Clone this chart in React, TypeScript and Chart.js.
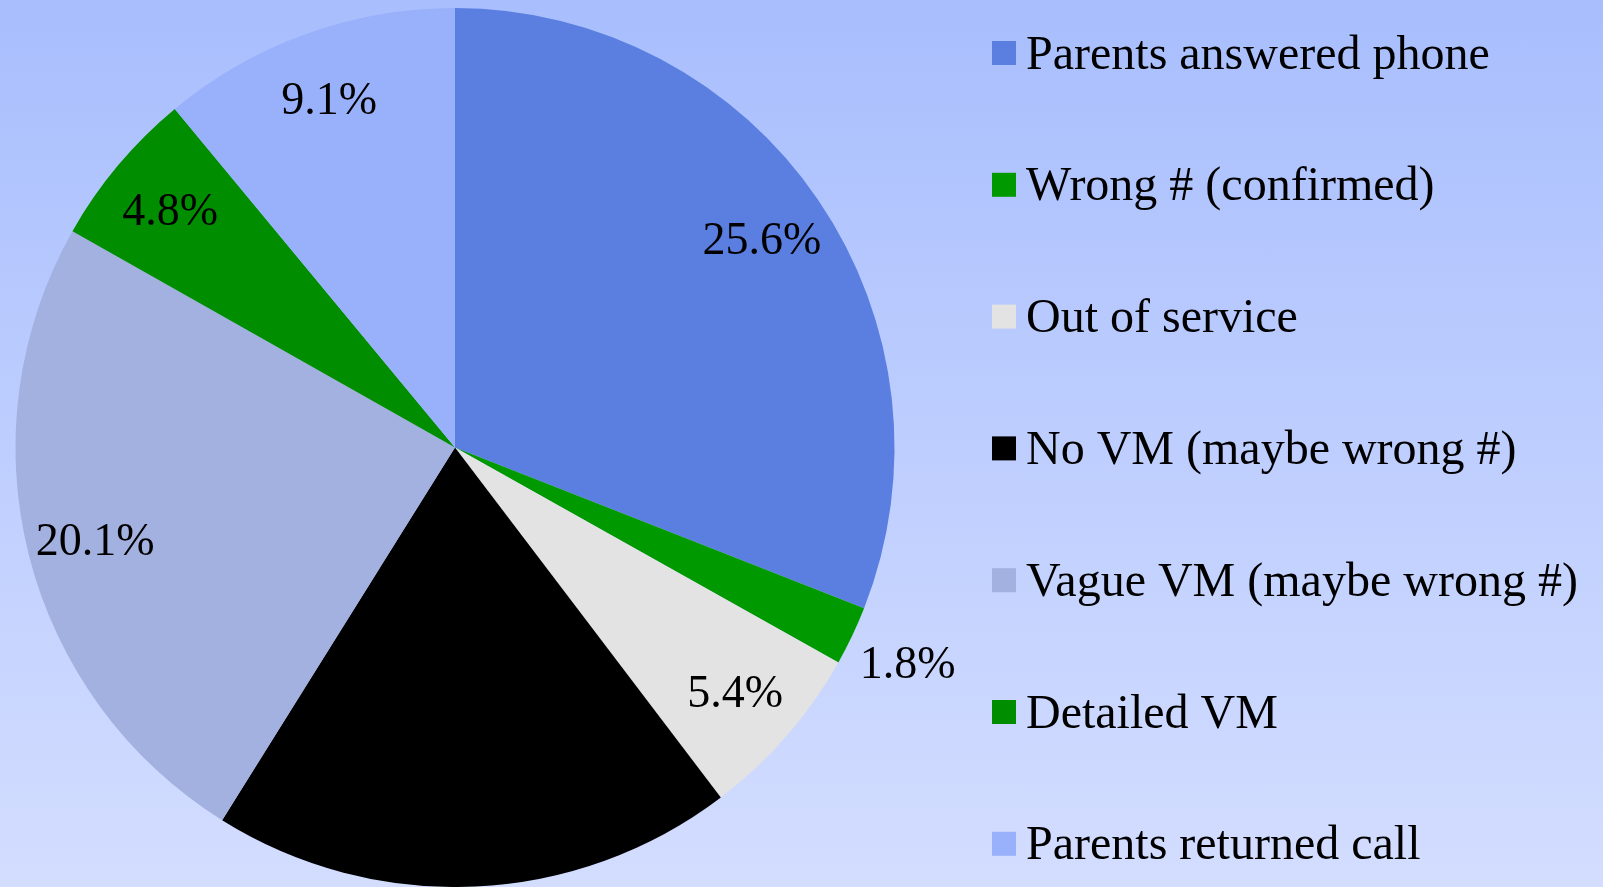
import React, { useEffect, useRef } from "react";
import { Chart, registerables } from "chart.js";

Chart.register(...registerables);

const categories = [
  "Parents answered phone",
  "Wrong # (confirmed)",
  "Out of service",
  "No VM (maybe wrong #)",
  "Vague VM (maybe wrong #)",
  "Detailed VM",
  "Parents returned call",
];
const values = [25.6, 1.8, 5.4, 15.9, 20.1, 4.8, 9.1];
const sliceColors = ["#5a7fe0", "#009900", "#e3e3e3", "#000000", "#a3b1e0", "#008e00", "#99b0fb"];

const W = 1603;
const H = 887;
const FONT = '"Liberation Serif", "Times New Roman", serif';

const labelPlugin = {
  id: "sliceLabels",
  afterDatasetsDraw(chart: any) {
    const ctx = chart.ctx;
    const meta = chart.getDatasetMeta(0);
    const data = chart.data.datasets[0].data as number[];
    const total = data.reduce((a, b) => a + b, 0);
    ctx.save();
    ctx.font = `46px ${FONT}`;
    ctx.textAlign = "center";
    ctx.textBaseline = "alphabetic";
    ctx.fillStyle = "#000000";
    meta.data.forEach((arc: any, i: number) => {
      if (sliceColors[i] === "#000000") return;
      const p = arc.getProps(["x", "y", "startAngle", "endAngle", "outerRadius"], true);
      const mid = (p.startAngle + p.endAngle) / 2;
      const frac = data[i] / total;
      const rf = frac < 0.03 ? 1.14 : 0.845;
      const lx = p.x + Math.cos(mid) * p.outerRadius * rf;
      const ly = p.y + Math.sin(mid) * p.outerRadius * rf;
      ctx.fillText(`${data[i].toFixed(1)}%`, lx, ly + 16);
    });
    ctx.restore();
  },
};

const legendPlugin = {
  id: "sideLegend",
  afterDraw(chart: any) {
    const ctx = chart.ctx;
    const labels = chart.data.labels as string[];
    const colors = chart.data.datasets[0].backgroundColor as string[];
    ctx.save();
    ctx.font = `48px ${FONT}`;
    ctx.textAlign = "left";
    ctx.textBaseline = "alphabetic";
    labels.forEach((lab, i) => {
      const cy = 53 + i * 131.8;
      ctx.fillStyle = colors[i];
      ctx.fillRect(992, cy - 12, 24, 24);
      ctx.fillStyle = "#000000";
      ctx.fillText(lab, 1026, cy + 15.5);
    });
    ctx.restore();
  },
};

export default function App() {
  const ref = useRef<HTMLCanvasElement | null>(null);
  useEffect(() => {
    document.body.style.margin = "0";
    if (!ref.current) return;
    const chart = new Chart(ref.current, {
      type: "pie",
      data: {
        labels: categories,
        datasets: [
          {
            data: values,
            backgroundColor: sliceColors,
            borderWidth: 0,
          },
        ],
      },
      options: {
        responsive: false,
        animation: false,
        layout: { padding: { left: 15, right: W - 895, top: 8, bottom: H - 888 } },
        plugins: {
          legend: { display: false },
          tooltip: { enabled: false },
          title: { display: false },
        },
      },
      plugins: [labelPlugin, legendPlugin],
    });
    return () => chart.destroy();
  }, []);
  return (
    <div
      style={{
        position: "absolute",
        left: 0,
        top: 0,
        width: W,
        height: H,
        overflow: "hidden",
        background: "linear-gradient(to bottom, #a8befd 0%, #d3ddff 100%)",
      }}
    >
      <canvas ref={ref} width={W} height={H} style={{ display: "block", width: W, height: H }} />
    </div>
  );
}
